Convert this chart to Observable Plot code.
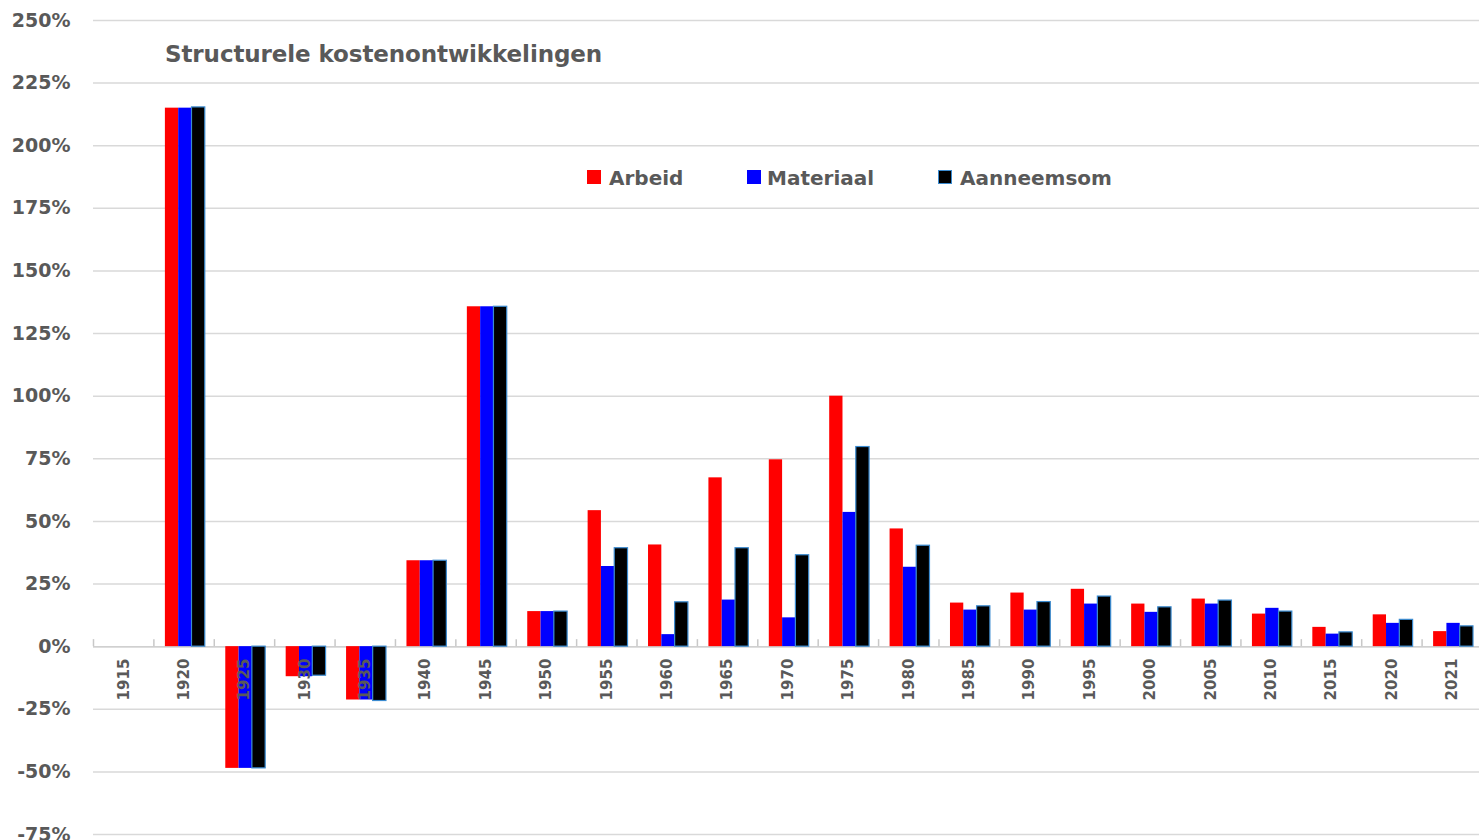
<!DOCTYPE html>
<html>
<head>
<meta charset="utf-8">
<script src="https://cdn.jsdelivr.net/npm/d3@7"></script>
<script src="https://cdn.jsdelivr.net/npm/@observablehq/plot@0.6"></script>
<style>
  html, body { margin: 0; padding: 0; background: #fff; }
  #wrap { position: relative; width: 1479px; height: 840px; overflow: hidden; font-family: "DejaVu Sans", sans-serif; font-weight: bold; color: #595959; }
  #title { position: absolute; left: 165px; top: 43px; font-size: 23px; line-height: 23px; white-space: nowrap; letter-spacing: -0.1px; }
  .leg { position: absolute; top: 168px; font-size: 20px; line-height: 20px; white-space: nowrap; }
  .sw { position: absolute; top: 170px; width: 14px; height: 14px; box-sizing: border-box; }
</style>
</head>
<body>
<div id="wrap">
  <div id="chart"></div>
  <div id="title"></div>
  <div id="legend"></div>
</div>
<script>
const title = "Structurele kostenontwikkelingen";
const years = ["1915","1920","1925","1930","1935","1940","1945","1950","1955","1960","1965","1970","1975","1980","1985","1990","1995","2000","2005","2010","2015","2020","2021"];
const seriesNames = ["Arbeid", "Materiaal", "Aanneemsom"];
const arbeid     = [null, 215, -48.6, -12, -21.3, 34.3, 135.7, 14, 54.3, 40.6, 67.4, 74.6, 100, 47, 17.4, 21.4, 22.9, 17, 19, 13, 7.7, 12.7, 6];
const materiaal  = [null, 215, -48.6, -12, -21.3, 34.3, 135.7, 14, 32, 4.8, 18.6, 11.5, 53.6, 31.7, 14.6, 14.6, 17, 13.7, 17, 15.3, 5, 9.3, 9.3];
const aanneemsom = [null, 215.3, -48.6, -11.6, -21.7, 34.3, 135.7, 14, 39.3, 17.7, 39.3, 36.5, 79.7, 40.3, 16.1, 17.8, 20, 15.7, 18.4, 14, 5.7, 10.7, 8.1];
const yTicks = [-75, -50, -25, 0, 25, 50, 75, 100, 125, 150, 175, 200, 225, 250];

const rows = years.map((y, i) => ({year: y, arbeid: arbeid[i], materiaal: materiaal[i], aanneemsom: aanneemsom[i]}));
const colors = ["#ff0000", "#0000ff", "#000000"];
const gray = "#595959";

const chart = Plot.plot({
  width: 1479,
  height: 840,
  marginTop: 20,
  marginBottom: 6,
  marginLeft: 93,
  marginRight: 0,
  x: {type: "band", domain: years, range: [93, 1482], padding: 0, round: false, axis: null},
  y: {domain: [-75, 250], axis: null},
  marks: [
    Plot.gridY(yTicks, {stroke: "#d9d9d9", strokeOpacity: 1, strokeWidth: 1.5}),
    Plot.axisY(yTicks, {tickSize: 0, tickPadding: 23, tickFormat: d => d + "%", fontSize: 19, fontWeight: "bold", fontFamily: "DejaVu Sans", fill: gray, label: null}),
    Plot.ruleY([0], {stroke: "#d0d0d0", strokeWidth: 1.5}),
    Plot.ruleX(years, {x: d => d, y1: 0, y2: 2.8, dx: -30.2, stroke: "#c8c8c8", strokeWidth: 1.5}),
    Plot.barY(rows.filter(d => d.arbeid != null), {x: "year", y: "arbeid", fill: colors[0], insetLeft: 11.5, insetRight: 35.6}),
    Plot.barY(rows.filter(d => d.materiaal != null), {x: "year", y: "materiaal", fill: colors[1], insetLeft: 24.8, insetRight: 22.3}),
    Plot.barY(rows.filter(d => d.aanneemsom != null), {x: "year", y: "aanneemsom", fill: colors[2], stroke: "#3b8bd0", strokeWidth: 1.2, insetLeft: 38.1, insetRight: 9}),
    Plot.text(years, {x: d => d, y: 0, text: d => d, rotate: -90, textAnchor: "end", dy: 12, fontSize: 15, fontWeight: "bold", fontFamily: "DejaVu Sans", fill: gray})
  ]
});
document.getElementById("chart").appendChild(chart);
document.getElementById("title").textContent = title;

const legendPos = [{sw: 587, tx: 609}, {sw: 747, tx: 767}, {sw: 938, tx: 960}];
const legend = document.getElementById("legend");
seriesNames.forEach((name, i) => {
  const sw = document.createElement("div");
  sw.className = "sw";
  sw.style.left = legendPos[i].sw + "px";
  sw.style.background = colors[i];
  if (i === 2) sw.style.border = "1.5px solid #3b8bd0";
  legend.appendChild(sw);
  const tx = document.createElement("div");
  tx.className = "leg";
  tx.style.left = legendPos[i].tx + "px";
  tx.textContent = name;
  legend.appendChild(tx);
});
</script>
</body>
</html>
